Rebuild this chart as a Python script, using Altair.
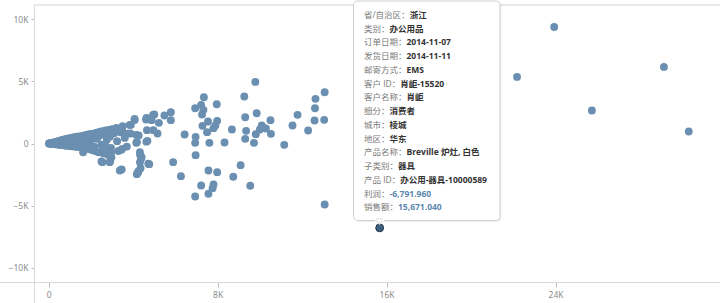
import altair as alt
import pandas as pd

# ---- scatter data: 销售额 (sales) vs 利润 (profit) ----
sales = [
    10, 30, 50, 70, 90, 110, 130, 150, 170, 190, 210, 230, 250, 270, 290, 310, 330, 350, 370, 390,
    410, 430, 450, 470, 490, 510, 530, 550, 570, 590, 610, 630, 650, 670, 690, 710, 730, 750, 770, 790,
    810, 830, 850, 870, 890, 910, 930, 950, 970, 990, 1010, 1040, 1070, 1100, 1130, 1160, 1190, 1220, 1250, 1280,
    1310, 1340, 1370, 1400, 1430, 1460, 1490, 1520, 1550, 1580, 1610, 1640, 1670, 1700, 1730, 1760, 1790, 1820, 1850, 1880,
    1910, 1940, 1970, 2000, 2040, 2080, 2120, 2160, 2200, 2240, 2280, 2320, 2360, 2400, 2450, 2500, 2550, 2600, 2650, 2700,
    2750, 2800, 2850, 2900, 2950, 3000, 3100, 3200, 3300, 3400, 3500, 3600, 3700, 3750, 3835, 4070, 4630, 4940, 4150, 4150,
    4625, 2575, 2890, 3440, 2970, 2500, 2890, 3370, 4320, 4400, 4320, 4715, 4240, 1630,
    23935, 22175, 29131, 25718, 30305, 13066, 12631, 12609, 12587, 13044, 12283, 11783, 11544, 11153, 13066,
    9783, 9261, 9848, 9305, 10500, 10087, 10000, 10522, 9805, 9348, 10283, 9305, 9718, 8674, 8326, 9087, 8740, 9544,
    7348, 7957, 6935, 7218, 7261, 7326, 7978, 7544, 7283, 7805, 7500, 7891, 6957, 6935, 7609, 6435, 6957, 7565, 7978,
    7218, 7805, 7761, 7565, 6935, 6261, 5892, 5783, 5783, 5479, 5000, 5218, 4609, 4065, 4870, 5152, 4957, 4652, 4261,
    3891, 3870, 3478, 4674, 4174, 4326, 4370, 4761, 4348, 4239, 4174, 3478, 2957, 2913, 2544, 3456, 2696, 3239,
]
profit = [
    2, -5, 12, -8, 20, -15, 35, -20, 50, -30, 70, -40, 10, 90, -50, 30, 120, -60, 60, 150,
    -75, 0, 180, -90, 90, 210, -100, 40, 240, -115, 130, 270, -130, -20, 300, 170, -145, 60, 330, -160,
    210, 360, -60, -175, 110, 390, 250, -190, 20, 420, -205, 160, 450, -220, 300, 480, -100, -240, 510, 200,
    -260, 540, 40, 380, -280, 570, 250, -300, -130, 600, 420, -330, 100, 640, -360, 300, 680, -400, -50, 720,
    480, -450, 200, 760, -520, 580, 800, -250, -600, 850, 380, 900, -700, 620, 950, -100, 1000, -800, 760, 1050,
    300, -900, 1100, 550, -350, 1150, 820, 1250, -600, 910, 1400, 450, -250, 800, 1490, 1890, 2050, 2290, 690, 60,
    150, -430, -700, -510, -1100, -1450, -1500, -2170, -700, -1100, -1500, -1630, -2310, -700,
    9383, 5362, 6166, 2654, 965, 4129, 3593, 2842, 1850, 1904, 1046, 2306, 1448, -107, -4906,
    4960, 3780, 2440, 2118, 1877, 1448, 1126, 777, 751, 1019, 1206, 375, 54, 1126, 80, -1743, -2681, -3405,
    3727, 3164, 2842, 3110, 2332, 2708, 1823, 1769, 1421, 1233, 911, 1448, 536, 54, 54, 724, -938, -2172, -2306,
    -3378, -3298, -3593, -4048, -4263, -2627, -1501, 2520, 1877, 2252, 2332, 1662, 1930, 1984, 1877, 804, 1072, 1072, 643,
    1501, 804, 1180, 214, 107, -912, -1233, -1662, -1984, -2252, -2466, -429, -697, -1394, -1501, -2091, -214, 188,
]

# highlighted order (tooltip)
hl_sales = [15671.04]
hl_profit = [-6791.96]

# ---- tooltip text ----
tip_labels = ["省/自治区：", "类别：", "订单日期：", "发货日期：", "邮寄方式：", "客户 ID：", "客户名称：",
              "细分：", "城市：", "地区：", "产品名称：", "子类别：", "产品 ID：", "利润：", "销售额："]
tip_values = ["浙江", "办公用品", "2014-11-07", "2014-11-11", "EMS", "肖岠-15520", "肖岠",
              "消费者", "棱城", "华东", "Breville 炉灶, 白色", "器具", "办公用-器具-10000589",
              "-6,791.960", "15,671.040"]
tip_value_colors = ["#333333"] * 13 + ["#5b87b0", "#5b87b0"]

# ---- x / y ticks ----
x_ticks = [0, 8000, 16000, 24000]
y_ticks = [-10000, -5000, 0, 5000, 10000]

W, H = 686, 277
FS = 8.5
FONT = "Open Sans, Noto Sans CJK SC"


def text_width(s, fs=FS):
    narrow = {" ": 0.26, "/": 0.37, "I": 0.28, "D": 0.71, "-": 0.32, ",": 0.25, ".": 0.27}
    w = 0.0
    for ch in s:
        if ord(ch) > 0x2E80:
            w += fs
        else:
            w += narrow.get(ch, 0.57) * fs
    return w


pts = pd.DataFrame({"sales": sales, "profit": profit})
hl = pd.DataFrame({"sales": hl_sales, "profit": hl_profit})

x_scale = alt.Scale(domain=[-696, 31785], nice=False, zero=False)
y_scale = alt.Scale(domain=[-11150, 11150], nice=False, zero=False)

k_expr = "datum.value == 0 ? '0' : format(datum.value / 1000, 'd') + 'K'"

base = alt.Chart(pts).mark_circle(size=62, opacity=1, color="#6a8fb0").encode(
    x=alt.X("sales:Q", scale=x_scale,
            axis=alt.Axis(values=x_ticks, labelExpr=k_expr, title=None, grid=False,
                          domainColor="#d9d9d9", tickColor="#bdbdbd", tickSize=5,
                          labelPadding=3, labelFontSize=8.5, labelColor="#8c8c8c",
                          labelFont="Noto Sans")),
    y=alt.Y("profit:Q", scale=y_scale,
            axis=alt.Axis(values=y_ticks, labelExpr=k_expr, title=None, grid=False,
                          domainColor="#d9d9d9", tickColor="#bdbdbd", tickSize=3,
                          labelPadding=3, labelFontSize=8.5, labelColor="#8c8c8c",
                          labelFont="Noto Sans")),
)

one = alt.Data(values=[{}])

top_line = alt.Chart(one).mark_rule(color="#e2e2e2", strokeWidth=1.5).encode(
    x=alt.value(0), x2=alt.value(W), y=alt.value(0))
left_ext = alt.Chart(one).mark_rule(color="#d9d9d9").encode(
    x=alt.value(-34), x2=alt.value(0), y=alt.value(H + 0.5))
down_ext = alt.Chart(one).mark_rule(color="#d9d9d9").encode(
    x=alt.value(0.5), y=alt.value(H), y2=alt.value(H + 21))

# tooltip box
tx0, tx1, ty0, ty1 = 319.5, 466, -4, 215.5
shadow = alt.Chart(one).mark_rect(cornerRadius=4, color="#000000", opacity=0.06).encode(
    x=alt.value(tx0 + 1.5), x2=alt.value(tx1 + 1.5), y=alt.value(ty0 + 1.5), y2=alt.value(ty1 + 1.5))
box = alt.Chart(one).mark_rect(cornerRadius=4, fill="#ffffff", stroke="#cfcfcf", strokeWidth=1).encode(
    x=alt.value(tx0), x2=alt.value(tx1), y=alt.value(ty0), y2=alt.value(ty1))

hl_pt = alt.Chart(hl).mark_circle(size=62, opacity=1, color="#3e5f7e", stroke="#223548",
                                  strokeWidth=1).encode(x="sales:Q", y="profit:Q")
pointer = alt.Chart(one).mark_point(shape="triangle-down", size=45, filled=True, fill="#ffffff",
                                    stroke="#cfcfcf", strokeWidth=1, opacity=1).encode(
    x=alt.value(345.5), y=alt.value(ty1 + 1.5))
pointer_cover = alt.Chart(one).mark_rule(color="#ffffff", strokeWidth=1.5).encode(
    x=alt.value(341), x2=alt.value(350), y=alt.value(ty1 - 0.2))

rows = []
for i, (lab, val, col) in enumerate(zip(tip_labels, tip_values, tip_value_colors)):
    lx = 330
    rows.append({"label": lab, "value": val, "col": col,
                 "lx": lx, "vx": lx + text_width(lab), "py": 10 + i * 13.74})
tip_df = pd.DataFrame(rows)

lab_text = alt.Chart(tip_df).mark_text(align="left", baseline="middle", font=FONT, fontSize=FS,
                                       color="#7a7a7a").encode(
    x=alt.X("lx:Q", scale=None), y=alt.Y("py:Q", scale=None), text="label:N")
val_text = alt.Chart(tip_df).mark_text(align="left", baseline="middle", font=FONT, fontSize=FS,
                                       fontWeight="bold").encode(
    x=alt.X("vx:Q", scale=None), y=alt.Y("py:Q", scale=None), text="value:N",
    color=alt.Color("col:N", scale=None))

chart = alt.layer(
    base, top_line, left_ext, down_ext, hl_pt, shadow, box, pointer, pointer_cover, lab_text, val_text
).properties(
    width=W, height=H, autosize=alt.AutoSizeParams(type="none"),
    padding={"left": 34, "top": 5, "right": 0, "bottom": 21},
    background="#ffffff",
).configure_view(strokeWidth=0)

chart.save("out.html", embed_options={"renderer": "svg", "actions": False})
